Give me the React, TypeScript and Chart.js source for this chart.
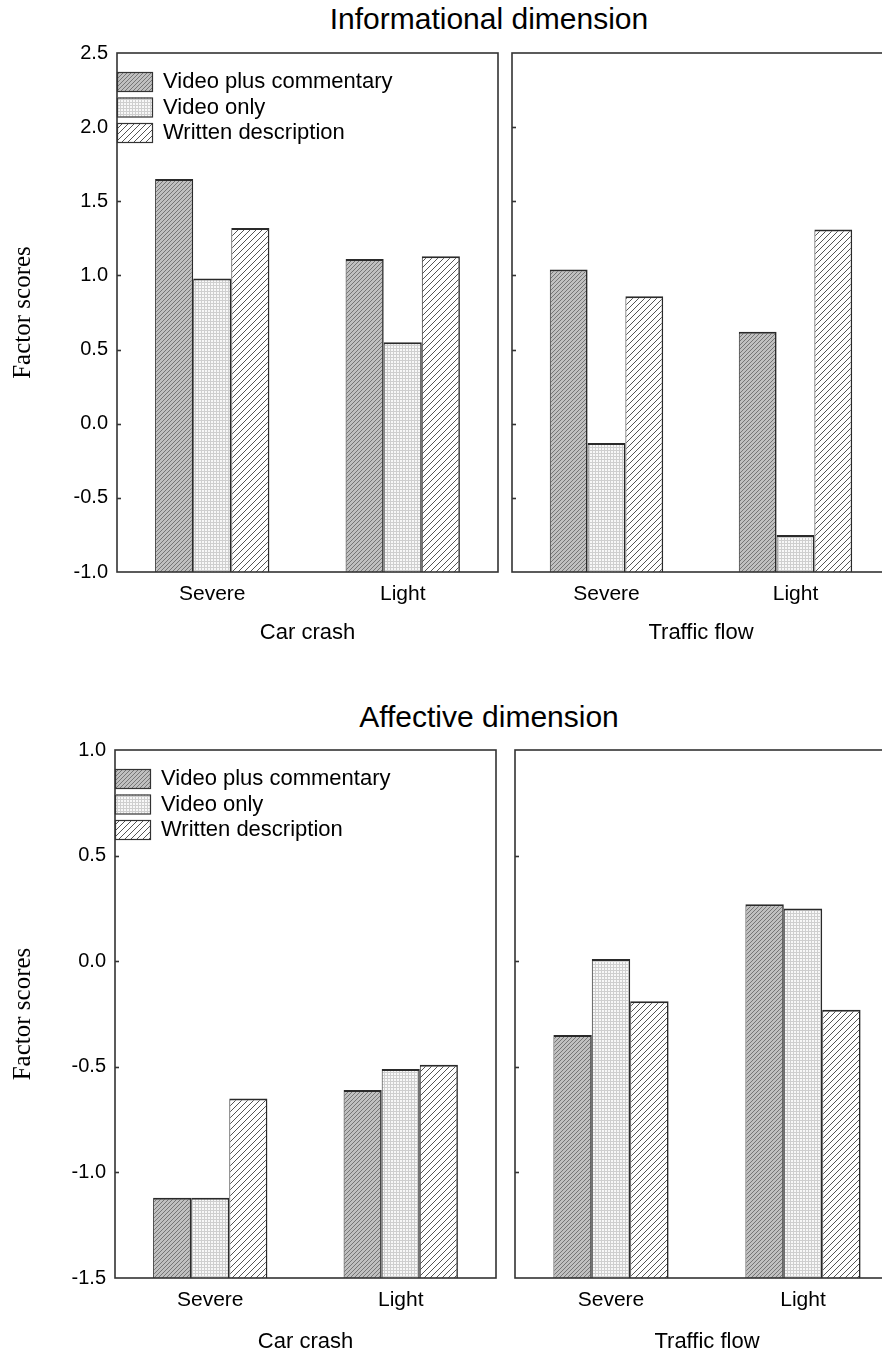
import React, { useEffect, useRef } from "react";
import { Chart, registerables } from "chart.js";

Chart.register(...registerables);

// ---------- data ----------
const categories = ["Severe", "Light"];
const seriesNames = ["Video plus commentary", "Video only", "Written description"];
const groupNames = ["Car crash", "Traffic flow"];
const chartTitles = ["Informational dimension", "Affective dimension"];
const yAxisTitle = "Factor scores";

// Informational dimension
const infoCarCrashVPC = [1.65, 1.11];
const infoCarCrashVO = [0.98, 0.55];
const infoCarCrashWD = [1.32, 1.13];
const infoTrafficVPC = [1.04, 0.62];
const infoTrafficVO = [-0.13, -0.75];
const infoTrafficWD = [0.86, 1.31];

// Affective dimension
const affCarCrashVPC = [-1.12, -0.61];
const affCarCrashVO = [-1.12, -0.51];
const affCarCrashWD = [-0.65, -0.49];
const affTrafficVPC = [-0.35, 0.27];
const affTrafficVO = [0.01, 0.25];
const affTrafficWD = [-0.19, -0.23];

const infoRange = [-1.0, 2.5];
const affRange = [-1.5, 1.0];
const tickStep = 0.5;

// ---------- styling ----------
const SANS = "'Liberation Sans', Arial, sans-serif";
const SERIF = "'Liberation Serif', 'Times New Roman', serif";

function makePattern(kind: number): CanvasPattern | string {
  const c = document.createElement("canvas");
  const ctx = c.getContext("2d");
  if (!ctx) return "#ccc";
  if (kind === 0) {
    const s = 4;
    c.width = s;
    c.height = s;
    ctx.fillStyle = "#c0c0c0";
    ctx.fillRect(0, 0, s, s);
    ctx.strokeStyle = "#767676";
    ctx.lineWidth = 1;
    for (let k = -1; k <= 1; k++) {
      ctx.beginPath();
      ctx.moveTo(k * s, s);
      ctx.lineTo(k * s + s, 0);
      ctx.stroke();
    }
  } else if (kind === 1) {
    c.width = 3;
    c.height = 3;
    ctx.fillStyle = "#f8f8f8";
    ctx.fillRect(0, 0, 3, 3);
    ctx.fillStyle = "#cfcfcf";
    ctx.fillRect(0, 0, 3, 1);
    ctx.fillRect(0, 0, 1, 3);
  } else {
    const s = 6;
    c.width = s;
    c.height = s;
    ctx.fillStyle = "#ffffff";
    ctx.fillRect(0, 0, s, s);
    ctx.strokeStyle = "#555555";
    ctx.lineWidth = 1;
    for (let k = -1; k <= 1; k++) {
      ctx.beginPath();
      ctx.moveTo(k * s, s);
      ctx.lineTo(k * s + s, 0);
      ctx.stroke();
    }
  }
  return ctx.createPattern(c, "repeat") || "#ccc";
}

type PanelProps = {
  left: number;
  top: number;
  width: number;
  height: number;
  padTop: number;
  padRight: number;
  yWidth: number;
  xHeight: number;
  xTitlePad: number;
  series: number[][];
  range: number[];
  group: string;
  showLabels: boolean;
  showLegend: boolean;
};

const framePlugin = {
  id: "frame",
  afterDatasetsDraw(chart: any) {
    const { ctx, chartArea } = chart;
    const ys = chart.scales.y;
    ctx.save();
    ctx.strokeStyle = "#333333";
    ctx.lineWidth = 1.6;
    ctx.strokeRect(chartArea.left, chartArea.top, chartArea.right - chartArea.left, chartArea.bottom - chartArea.top);
    // inward tick marks
    ys.ticks.forEach((t: any, i: number) => {
      if (i === 0 || i === ys.ticks.length - 1) return;
      const py = Math.round(ys.getPixelForValue(t.value)) + 0.5;
      ctx.beginPath();
      ctx.moveTo(chartArea.left, py);
      ctx.lineTo(chartArea.left + 4, py);
      ctx.stroke();
    });
    ctx.restore();
  },
};

const legendPlugin = {
  id: "patternLegend",
  afterDatasetsDraw(chart: any) {
    const opts = chart.options.plugins.patternLegend;
    if (!opts || !opts.show) return;
    const { ctx, chartArea } = chart;
    ctx.save();
    chart.data.datasets.forEach((ds: any, i: number) => {
      const bx = chartArea.left;
      const by = chartArea.top + 19 + i * 25.5;
      ctx.fillStyle = ds.backgroundColor;
      ctx.fillRect(bx, by, 35, 19);
      ctx.strokeStyle = "#333";
      ctx.lineWidth = 1.2;
      ctx.strokeRect(bx + 0.5, by + 0.5, 35, 19);
      ctx.fillStyle = "#000";
      ctx.font = `22px ${SANS}`;
      ctx.textBaseline = "middle";
      ctx.textAlign = "left";
      ctx.fillText(ds.label, bx + 46, by + 10);
    });
    ctx.restore();
  },
};

function Panel(p: PanelProps) {
  const ref = useRef<HTMLCanvasElement>(null);
  useEffect(() => {
    if (!ref.current) return;
    const patterns = [makePattern(0), makePattern(1), makePattern(2)];
    const chart = new Chart(ref.current, {
      type: "bar",
      data: {
        labels: categories,
        datasets: p.series.map((vals, i) => ({
          label: seriesNames[i],
          data: vals,
          backgroundColor: patterns[i] as any,
          borderColor: "#2a2a2a",
          borderWidth: { top: 2, right: 1.6, left: 1, bottom: 0 },
          borderSkipped: "start",
          base: p.range[0],
          barPercentage: 1,
          categoryPercentage: 0.6,
        })) as any,
      },
      options: {
        responsive: false,
        animation: false,
        layout: { padding: { top: p.padTop, right: p.padRight, left: 0, bottom: 0 } },
        plugins: {
          legend: { display: false },
          tooltip: { enabled: false },
          patternLegend: { show: p.showLegend },
        } as any,
        scales: {
          x: {
            type: "category",
            grid: { display: false, drawTicks: false },
            border: { display: false },
            ticks: { font: { family: SANS, size: 21 }, color: "#000", padding: 10 },
            title: {
              display: true,
              text: p.group,
              font: { family: SANS, size: 22 },
              color: "#000",
              padding: { top: 0, bottom: p.xTitlePad },
            },
            afterFit: (s: any) => {
              s.height = p.xHeight;
            },
          },
          y: {
            type: "linear",
            min: p.range[0],
            max: p.range[1],
            grid: { display: false, drawTicks: false },
            border: { display: false },
            ticks: {
              stepSize: tickStep,
              display: p.showLabels,
              font: { family: SANS, size: 20 },
              color: "#000",
              padding: 9,
              callback: (v: any) => Number(v).toFixed(1),
            },
            title: {
              display: p.showLabels,
              text: yAxisTitle,
              font: { family: SERIF, size: 25 },
              color: "#000",
              padding: { top: 8, bottom: 0 },
            },
            afterFit: (s: any) => {
              s.width = p.yWidth;
            },
          },
        },
      } as any,
      plugins: [framePlugin, legendPlugin],
    });
    return () => chart.destroy();
  }, []);
  return (
    <canvas
      ref={ref}
      width={p.width}
      height={p.height}
      style={{ position: "absolute", left: p.left, top: p.top, width: p.width, height: p.height }}
    />
  );
}

const titleStyle = (top: number): React.CSSProperties => ({
  position: "absolute",
  left: 189,
  width: 600,
  top,
  height: 40,
  lineHeight: "40px",
  textAlign: "center",
  fontFamily: SANS,
  fontSize: 30,
  color: "#000",
  whiteSpace: "nowrap",
});

export default function App() {
  return (
    <div
      style={{
        position: "absolute",
        left: 0,
        top: 0,
        width: 882,
        height: 1352,
        overflow: "hidden",
        background: "#fff",
      }}
    >
      <div style={titleStyle(-1)}>{chartTitles[0]}</div>
      <Panel
        left={0}
        top={0}
        width={505}
        height={660}
        padTop={53}
        padRight={7}
        yWidth={117}
        xHeight={88}
        xTitlePad={14}
        series={[infoCarCrashVPC, infoCarCrashVO, infoCarCrashWD]}
        range={infoRange}
        group={groupNames[0]}
        showLabels={true}
        showLegend={true}
      />
      <Panel
        left={505}
        top={0}
        width={395}
        height={660}
        padTop={53}
        padRight={10}
        yWidth={7}
        xHeight={88}
        xTitlePad={14}
        series={[infoTrafficVPC, infoTrafficVO, infoTrafficWD]}
        range={infoRange}
        group={groupNames[1]}
        showLabels={false}
        showLegend={false}
      />
      <div style={titleStyle(697)}>{chartTitles[1]}</div>
      <Panel
        left={0}
        top={700}
        width={505}
        height={660}
        padTop={50}
        padRight={9}
        yWidth={115}
        xHeight={82}
        xTitlePad={5}
        series={[affCarCrashVPC, affCarCrashVO, affCarCrashWD]}
        range={affRange}
        group={groupNames[0]}
        showLabels={true}
        showLegend={true}
      />
      <Panel
        left={505}
        top={700}
        width={400}
        height={660}
        padTop={50}
        padRight={6}
        yWidth={10}
        xHeight={82}
        xTitlePad={5}
        series={[affTrafficVPC, affTrafficVO, affTrafficWD]}
        range={affRange}
        group={groupNames[1]}
        showLabels={false}
        showLegend={false}
      />
    </div>
  );
}
